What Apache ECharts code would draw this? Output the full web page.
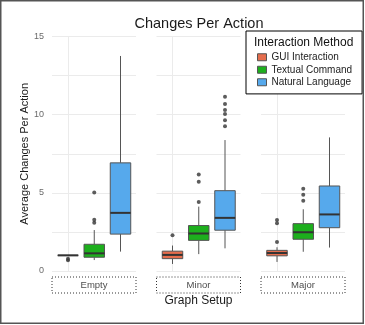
<!DOCTYPE html>
<html><head><meta charset="utf-8">
<script src="https://cdn.jsdelivr.net/npm/echarts@6/dist/echarts.min.js"></script>
<style>html,body{margin:0;padding:0;background:#fff}#c{width:365px;height:325px}</style>
</head><body><div id="c"></div>
<script>
const setups = ['Empty', 'Minor', 'Major'];
const methods = ['GUI Interaction', 'Textual Command', 'Natural Language'];
// per setup: [lower whisker, q1, median, q3, upper whisker]
const guiStats = [[1.0, 1.0, 1.0, 1.0, 1.0], [0.45, 0.79, 1.03, 1.27, 1.63], [0.58, 0.97, 1.15, 1.32, 1.52]];
const textualStats = [[0.70, 0.88, 1.13, 1.71, 2.62], [1.08, 1.96, 2.40, 2.91, 4.12], [1.23, 2.03, 2.48, 3.03, 3.95]];
const naturalStats = [[1.24, 2.36, 3.72, 6.92, 13.76], [1.45, 2.61, 3.40, 5.14, 8.38], [1.50, 2.77, 3.62, 5.44, 8.55]];
const guiOutliers = [[0.78, 0.68], [2.28], [1.86, 3.05, 3.26]];
const textualOutliers = [[3.09, 3.28, 5.03], [4.41, 5.71, 6.18], [4.50, 4.88, 5.27]];
const naturalOutliers = [[], [9.26, 9.64, 10.05, 10.30, 10.68, 11.15], []];
const yMin = 0, yMax = 15, yStep = 2.5;

const stats = [guiStats, textualStats, naturalStats];
const outliers = [guiOutliers, textualOutliers, naturalOutliers];
const colors = ['#E56D4D', '#1DAF1D', '#56A9EC'];
const FONT = '"Liberation Sans", Arial, sans-serif';
const panelLefts = [52, 156.5, 261];
const panelW = 84, gTop = 36.6, gBottom = 54;

function renderBox(params, api) {
  const x = api.value(0);
  const lo = api.coord([x, api.value(1)]);
  const q1 = api.coord([x, api.value(2)]);
  const md = api.coord([x, api.value(3)]);
  const q3 = api.coord([x, api.value(4)]);
  const hi = api.coord([x, api.value(5)]);
  const band = api.coord([1, 0])[0] - api.coord([0, 0])[0];
  const hw = band * 0.39;
  const cx = lo[0];
  const fill = api.visual('color');
  return {
    type: 'group', children: [
      { type: 'line', shape: { x1: cx, y1: hi[1], x2: cx, y2: q3[1] }, style: { stroke: '#555', lineWidth: 1 } },
      { type: 'line', shape: { x1: cx, y1: q1[1], x2: cx, y2: lo[1] }, style: { stroke: '#555', lineWidth: 1 } },
      { type: 'rect', shape: { x: cx - hw, y: q3[1], width: 2 * hw, height: q1[1] - q3[1] }, style: { fill: fill, stroke: '#555', lineWidth: 1 } },
      { type: 'line', shape: { x1: cx - hw, y1: md[1], x2: cx + hw, y2: md[1] }, style: { stroke: '#333', lineWidth: 2 } }
    ]
  };
}

const grid = [], xAxis = [], yAxis = [], series = [];
setups.forEach((s, p) => {
  grid.push({ left: panelLefts[p], width: panelW, top: gTop, bottom: gBottom });
  grid.push({ left: panelLefts[p] + 16, width: 52.5, top: gTop, bottom: gBottom });
  xAxis.push({
    gridIndex: 2 * p, type: 'category', data: [s],
    axisLine: { show: false }, axisTick: { show: false }, splitLine: { show: false },
    axisLabel: {
      margin: 6, width: 84, height: 16, lineHeight: 16, align: 'center',
      fontFamily: FONT, fontSize: 9.5, color: '#4d4d4d',
      borderType: [1, 2], borderColor: '#333', borderWidth: 1
    }
  });
  xAxis.push({
    gridIndex: 2 * p + 1, type: 'category', data: methods, boundaryGap: false,
    axisLine: { show: false }, axisTick: { show: false }, axisLabel: { show: false },
    splitLine: { show: true, lineStyle: { color: '#ebebeb', width: 1 } }
  });
  yAxis.push({
    gridIndex: 2 * p, type: 'value', min: yMin, max: yMax, interval: yStep,
    axisLine: { show: false }, axisTick: { show: false },
    axisLabel: { show: p === 0, margin: 8, fontFamily: FONT, fontSize: 9, color: '#6a6a6a',
      formatter: v => (v % 5 === 0 ? String(v) : '') },
    splitLine: { lineStyle: { color: '#ebebeb', width: 1 } },
    name: p === 0 ? 'Average Changes Per Action' : '', nameLocation: 'middle', nameGap: 21,
    nameTextStyle: { fontFamily: FONT, fontSize: 11, color: '#1a1a1a' }
  });
  yAxis.push({ gridIndex: 2 * p + 1, type: 'value', min: yMin, max: yMax, show: false });
  methods.forEach((m, k) => {
    series.push({
      type: 'custom', name: m, xAxisIndex: 2 * p + 1, yAxisIndex: 2 * p + 1, clip: false,
      itemStyle: { color: colors[k] },
      data: [[k].concat(stats[k][p])],
      renderItem: renderBox, z: 3
    });
  });
  const pts = [];
  methods.forEach((m, k) => outliers[k][p].forEach(v => pts.push([k, v])));
  series.push({
    type: 'scatter', xAxisIndex: 2 * p + 1, yAxisIndex: 2 * p + 1,
    symbolSize: 4, itemStyle: { color: '#333' }, data: pts, z: 4, silent: true
  });
});

const chart = echarts.init(document.getElementById('c'), null, { renderer: 'canvas' });
chart.setOption({
  animation: false,
  backgroundColor: '#fff',
  grid, xAxis, yAxis, series,
  legend: {
    data: methods, orient: 'vertical', left: 246, top: 31,
    padding: [20, 10, 5.4, 11], itemWidth: 9, itemHeight: 7, itemGap: 0,
    icon: 'rect', itemStyle: { borderColor: '#555', borderWidth: 1 },
    textStyle: { fontFamily: FONT, fontSize: 10, color: '#222', lineHeight: 12.5 },
    borderColor: '#000', borderWidth: 1, backgroundColor: '#fff', borderRadius: 0,
    selectedMode: false
  },
  graphic: [
    { type: 'rect', shape: { x: 0.75, y: 0.75, width: 362.5, height: 322.5 }, style: { fill: null, stroke: '#555', lineWidth: 1.5 }, z: 100 },
    { type: 'text', x: 199, y: 23.5, style: { text: 'Changes Per Action', textAlign: 'center', textVerticalAlign: 'middle', font: '14.5px ' + FONT, fill: '#1a1a1a' } },
    { type: 'text', x: 198.5, y: 301, style: { text: 'Graph Setup', textAlign: 'center', textVerticalAlign: 'middle', font: '12px ' + FONT, fill: '#1a1a1a' } },
    { type: 'text', x: 254, y: 43, z: 200, style: { text: 'Interaction Method', textAlign: 'left', textVerticalAlign: 'middle', font: '12px ' + FONT, fill: '#111' } }
  ]
});
</script></body></html>
